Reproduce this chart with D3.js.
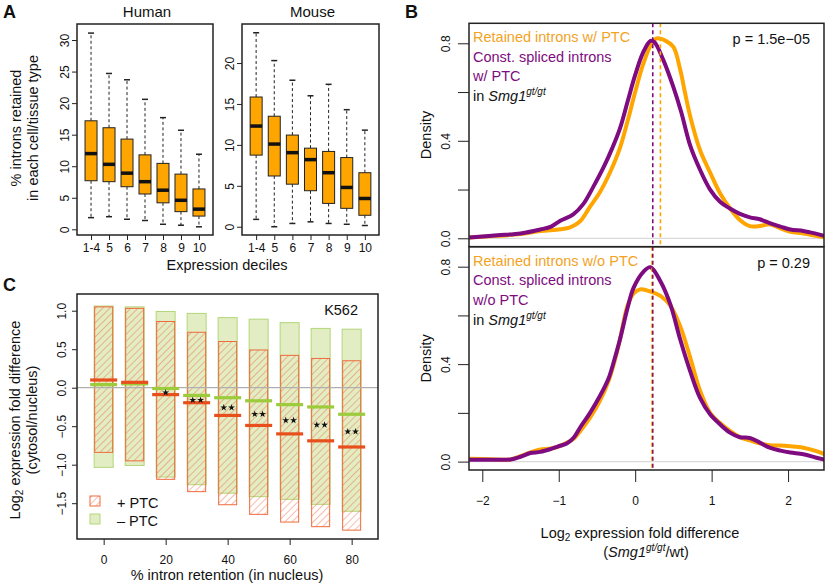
<!DOCTYPE html>
<html><head><meta charset="utf-8">
<script src="https://cdn.jsdelivr.net/npm/d3@7"></script>
<style>
body{margin:0;background:#fff}
text{font-family:"Liberation Sans",Arial,Helvetica,sans-serif}
</style>
</head><body>
<svg id="c" width="827" height="585"></svg>
<script>
// ---------- Panel A data (box plots) ----------
const deciles = ["1-4","5","6","7","8","9","10"];
const humanLow  = [1.85, 2.0, 1.6, 1.4, 0.8, 0.65, 0.4];
const humanQ1   = [7.7, 7.55, 6.75, 5.6, 4.2, 2.8, 2.1];
const humanMed  = [12.0, 10.3, 8.9, 7.55, 6.2, 4.6, 3.2];
const humanQ3   = [17.2, 16.1, 14.3, 11.8, 10.45, 8.75, 6.4];
const humanHigh = [31.1, 24.7, 23.7, 20.6, 17.7, 15.7, 11.9];
const mouseLow  = [0.9, 0.0, 0.4, 0.6, 0.4, 0.3, 0.15];
const mouseQ1   = [8.75, 6.2, 5.2, 4.4, 2.85, 2.25, 1.4];
const mouseMed  = [12.3, 10.1, 9.05, 8.2, 6.6, 4.8, 3.45];
const mouseQ3   = [15.85, 13.5, 11.2, 9.6, 9.2, 8.45, 6.6];
const mouseHigh = [23.7, 20.3, 17.9, 16.0, 17.4, 14.3, 11.8];
const humanTicks = [0,5,10,15,20,25,30];
const mouseTicks = [0,5,10,15,20];

// ---------- Panel C data ----------
const retention   = [0,10,20,30,40,50,60,70,80];
const ptcTop      = [1.05, 1.03, 0.86, 0.72, 0.60, 0.49, 0.42, 0.38, 0.35];
const ptcBottom   = [-0.84, -0.95, -1.19, -1.35, -1.52, -1.645, -1.745, -1.805, -1.85];
const ptcMedian   = [0.10, 0.07, -0.09, -0.195, -0.36, -0.49, -0.60, -0.69, -0.77];
const noPtcTop    = [1.06, 1.05, 0.99, 0.965, 0.91, 0.89, 0.845, 0.77, 0.76];
const noPtcBottom = [-1.035, -1.01, -1.16, -1.26, -1.37, -1.415, -1.45, -1.515, -1.605];
const noPtcMedian = [0.04, 0.05, -0.01, -0.10, -0.13, -0.17, -0.22, -0.25, -0.345];
const signifStars = [0,0,1,2,2,2,2,2,2];
const cYTicks = [1.0,0.5,0.0,-0.5,-1.0,-1.5];
const cXTicks = [0,20,40,60,80];

// ---------- Panel B data (density curves) ----------
const topRetained = [[-2.17,0.003],[-1.8,0.01],[-1.5,0.018],[-1.24,0.03],[-0.98,0.037],[-0.85,0.045],[-0.72,0.07],[-0.59,0.13],[-0.46,0.19],[-0.33,0.27],[-0.2,0.37],[-0.1,0.48],[0.0,0.6],[0.1,0.71],[0.2,0.79],[0.28,0.82],[0.4,0.81],[0.5,0.785],[0.59,0.69],[0.65,0.6],[0.72,0.5],[0.85,0.36],[0.98,0.27],[1.11,0.185],[1.24,0.123],[1.37,0.075],[1.5,0.05],[1.63,0.05],[1.76,0.058],[1.9,0.041],[2.03,0.027],[2.2,0.02],[2.47,0.004]];
const topConst = [[-2.17,0.003],[-1.8,0.012],[-1.5,0.02],[-1.24,0.036],[-1.1,0.048],[-0.98,0.072],[-0.81,0.098],[-0.68,0.14],[-0.55,0.21],[-0.4,0.3],[-0.3,0.37],[-0.2,0.45],[-0.1,0.56],[0.0,0.67],[0.1,0.76],[0.2,0.81],[0.25,0.805],[0.37,0.73],[0.5,0.62],[0.6,0.52],[0.72,0.38],[0.85,0.28],[0.98,0.2],[1.11,0.15],[1.24,0.122],[1.37,0.1],[1.5,0.086],[1.63,0.078],[1.76,0.062],[1.9,0.048],[2.03,0.036],[2.2,0.03],[2.35,0.02],[2.47,0.01]];
const botRetained = [[-2.17,0.012],[-1.9,0.01],[-1.63,0.009],[-1.5,0.022],[-1.37,0.038],[-1.24,0.05],[-1.1,0.054],[-0.98,0.065],[-0.89,0.078],[-0.8,0.095],[-0.72,0.125],[-0.59,0.18],[-0.46,0.25],[-0.35,0.33],[-0.28,0.4],[-0.2,0.5],[-0.1,0.64],[-0.02,0.69],[0.065,0.707],[0.15,0.703],[0.33,0.68],[0.46,0.64],[0.59,0.555],[0.72,0.427],[0.85,0.29],[0.98,0.2],[1.11,0.158],[1.24,0.126],[1.37,0.1],[1.5,0.087],[1.63,0.075],[1.76,0.067],[1.9,0.066],[2.03,0.063],[2.2,0.057],[2.37,0.043],[2.48,0.03]];
const botConst = [[-2.17,0.008],[-1.9,0.008],[-1.63,0.009],[-1.5,0.02],[-1.37,0.035],[-1.24,0.04],[-1.1,0.052],[-0.98,0.065],[-0.89,0.075],[-0.8,0.1],[-0.72,0.14],[-0.59,0.2],[-0.46,0.27],[-0.35,0.34],[-0.28,0.41],[-0.2,0.5],[-0.1,0.63],[-0.02,0.714],[0.11,0.78],[0.2,0.798],[0.33,0.74],[0.46,0.645],[0.59,0.5],[0.72,0.37],[0.85,0.26],[0.98,0.194],[1.11,0.153],[1.24,0.119],[1.37,0.1],[1.5,0.097],[1.63,0.078],[1.76,0.057],[1.9,0.045],[2.03,0.037],[2.2,0.03],[2.37,0.016],[2.48,0.008]];
const topMedians = {retained:0.33, constant:0.23};
const botMedians = {retained:0.22, constant:0.23};
const bYTicks = [0,0.2,0.4,0.6,0.8];
const bXTicks = [-2,-1,0,1,2];

const ORANGE = "#FFA500", PURPLE = "#7E0C80";
const svg = d3.select("#c");
const defs = svg.append("defs");
defs.append("pattern").attr("id","hatch").attr("patternUnits","userSpaceOnUse")
  .attr("width",5).attr("height",5).attr("patternTransform","rotate(45)")
  .append("line").attr("x1",0).attr("y1",-1).attr("x2",0).attr("y2",6)
  .attr("stroke","#EF6A3E").attr("stroke-width",0.9);

function rotatedYAxis(g, scale, ticks, tickLen, labelOff, fmt, labelSet){
  const ax = d3.axisLeft(scale).tickValues(ticks).tickSize(tickLen).tickSizeOuter(0)
    .tickFormat(d => (labelSet && !labelSet.includes(d)) ? "" : fmt(d));
  g.call(ax);
  g.select(".domain").remove();
  g.selectAll(".tick line").attr("stroke","#222").attr("stroke-width",1);
  g.selectAll(".tick text").attr("x",0).attr("y",0).attr("dy",0)
    .attr("transform",`translate(${-labelOff},0) rotate(-90)`)
    .attr("text-anchor","middle").attr("font-size",12).attr("fill","#111");
}
function bottomAxis(g, scale, ticks, tickLen, labelOff, fmt){
  const ax = d3.axisBottom(scale).tickValues(ticks).tickSize(tickLen).tickSizeOuter(0).tickFormat(fmt);
  g.call(ax);
  g.select(".domain").remove();
  g.selectAll(".tick line").attr("stroke","#222").attr("stroke-width",1);
  g.selectAll(".tick text").attr("y",labelOff).attr("dy",0).attr("font-size",12).attr("fill","#111");
}
function frame(x0,y0,x1,y1){
  svg.append("rect").attr("x",x0).attr("y",y0).attr("width",x1-x0).attr("height",y1-y0)
    .attr("fill","none").attr("stroke","#222").attr("stroke-width",1.5);
}
function label(x,y,txt,opts={}){
  const t = svg.append("text").attr("x",x).attr("y",y).attr("font-size",opts.size||14.5)
    .attr("fill",opts.fill||"#111").attr("text-anchor",opts.anchor||"start");
  if(opts.weight) t.attr("font-weight",opts.weight);
  if(txt!==null) t.text(txt);
  return t;
}

// ---------- Panel A ----------
function boxPanel(f, yDom, ticks, low, q1, med, q3, high, title){
  const x = d3.scaleLinear().domain([-0.78, 6.78]).range([f.x0, f.x1]);
  const y = d3.scaleLinear().domain(yDom).range([f.y1, f.y0]);
  const g = svg.append("g");
  const bw = 12, sw = 6;
  deciles.forEach((d,i)=>{
    const cx = x(i);
    g.append("line").attr("x1",cx).attr("x2",cx).attr("y1",y(q3[i])).attr("y2",y(high[i]))
      .attr("stroke","#222").attr("stroke-dasharray","3,2.5").attr("stroke-width",1);
    g.append("line").attr("x1",cx).attr("x2",cx).attr("y1",y(q1[i])).attr("y2",y(low[i]))
      .attr("stroke","#222").attr("stroke-dasharray","3,2.5").attr("stroke-width",1);
    g.append("line").attr("x1",cx-sw/2).attr("x2",cx+sw/2).attr("y1",y(high[i])).attr("y2",y(high[i]))
      .attr("stroke","#222").attr("stroke-width",1.5);
    g.append("line").attr("x1",cx-sw/2).attr("x2",cx+sw/2).attr("y1",y(low[i])).attr("y2",y(low[i]))
      .attr("stroke","#222").attr("stroke-width",1.5);
    g.append("rect").attr("x",cx-bw/2).attr("width",bw).attr("y",y(q3[i])).attr("height",y(q1[i])-y(q3[i]))
      .attr("fill",ORANGE).attr("stroke","#222").attr("stroke-width",1);
    g.append("line").attr("x1",cx-bw/2).attr("x2",cx+bw/2).attr("y1",y(med[i])).attr("y2",y(med[i]))
      .attr("stroke","#111").attr("stroke-width",3.5);
  });
  frame(f.x0,f.y0,f.x1,f.y1);
  rotatedYAxis(svg.append("g").attr("transform",`translate(${f.x0},0)`), y, ticks, 5, 8, d3.format("d"));
  bottomAxis(svg.append("g").attr("transform",`translate(0,${f.y1})`), x, d3.range(7), 5, 17, i=>deciles[i]);
  label((f.x0+f.x1)/2 + 2, 17, title, {size:15, anchor:"middle"});
}
boxPanel({x0:77,x1:213,y0:24,y1:235}, [-0.9,32.54], humanTicks, humanLow, humanQ1, humanMed, humanQ3, humanHigh, "Human");
boxPanel({x0:242,x1:379,y0:24,y1:235}, [-1.01,24.77], mouseTicks, mouseLow, mouseQ1, mouseMed, mouseQ3, mouseHigh, "Mouse");
label(227, 270, "Expression deciles", {anchor:"middle"});
svg.append("text").attr("transform","translate(21,128) rotate(-90)").attr("text-anchor","middle").attr("font-size",14.5).attr("fill","#111").text("% introns retained");
svg.append("text").attr("transform","translate(38,128) rotate(-90)").attr("text-anchor","middle").attr("font-size",14.5).attr("fill","#111").text("in each cell/tissue type");
label(3, 18, "A", {size:18, weight:"bold"});

// ---------- Panel C ----------
(function(){
  const f = {x0:77,x1:378,y0:294,y1:539};
  const x = d3.scaleLinear().domain([-8.6,88.5]).range([f.x0,f.x1]);
  const y = d3.scaleLinear().domain([-1.965,1.217]).range([f.y1,f.y0]);
  const g = svg.append("g");
  const bw = 19, mw = 27;
  retention.forEach((r,i)=>{
    g.append("rect").attr("x",x(r)-bw/2).attr("width",bw).attr("y",y(noPtcTop[i])).attr("height",y(noPtcBottom[i])-y(noPtcTop[i]))
      .attr("fill","#E2EDC3").attr("stroke","#B3D67A").attr("stroke-width",1);
  });
  retention.forEach((r,i)=>{
    g.append("rect").attr("x",x(r)-bw/2+0.5).attr("width",bw-1).attr("y",y(ptcTop[i])).attr("height",y(ptcBottom[i])-y(ptcTop[i]))
      .attr("fill","url(#hatch)").attr("stroke","#EF6A3E").attr("stroke-width",1);
  });
  g.append("line").attr("x1",f.x0).attr("x2",f.x1).attr("y1",y(0)).attr("y2",y(0))
    .attr("stroke","#AFAFAF").attr("stroke-width",1.3);
  retention.forEach((r,i)=>{
    g.append("line").attr("x1",x(r)-mw/2).attr("x2",x(r)+mw/2).attr("y1",y(noPtcMedian[i])).attr("y2",y(noPtcMedian[i]))
      .attr("stroke","#9CCB3B").attr("stroke-width",3.2);
    g.append("line").attr("x1",x(r)-mw/2).attr("x2",x(r)+mw/2).attr("y1",y(ptcMedian[i])).attr("y2",y(ptcMedian[i]))
      .attr("stroke","#E84F1C").attr("stroke-width",3.2);
    const n = signifStars[i];
    const sy = (y(noPtcMedian[i])+y(ptcMedian[i]))/2 + 1;
    for(let k=0;k<n;k++){
      const sx = x(r) + (n===1 ? 0 : (k===0?-3.9:3.9));
      g.append("path").attr("d", d3.symbol(d3.symbolStar).size(15)()).attr("transform",`translate(${sx},${sy})`).attr("fill","#111");
    }
  });
  frame(f.x0,f.y0,f.x1,f.y1);
  rotatedYAxis(svg.append("g").attr("transform",`translate(${f.x0},0)`), y, cYTicks, 5, 11, d3.format(".1f"));
  bottomAxis(svg.append("g").attr("transform",`translate(0,${f.y1})`), x, cXTicks, 6, 25, d3.format("d"));
  label(358, 315, "K562", {anchor:"end"});
  // legend
  svg.append("rect").attr("x",90).attr("y",496).attr("width",10).attr("height",10).attr("fill","url(#hatch)").attr("stroke","#EF6A3E");
  label(117, 508, "+ PTC");
  svg.append("rect").attr("x",90).attr("y",514).attr("width",10).attr("height",10).attr("fill","#E2EDC3").attr("stroke","#B3D67A");
  label(117, 526, "\u2013 PTC");
  label(227, 580, "% intron retention (in nucleus)", {anchor:"middle"});
  const l1 = svg.append("text").attr("transform","translate(20,420) rotate(-90)").attr("text-anchor","middle").attr("font-size",14.5).attr("fill","#111");
  l1.append("tspan").text("Log");
  l1.append("tspan").attr("font-size",10).attr("dy",3).text("2");
  l1.append("tspan").attr("dy",-3).text(" expression fold difference");
  svg.append("text").attr("transform","translate(37,420) rotate(-90)").attr("text-anchor","middle").attr("font-size",14.5).attr("fill","#111").text("(cytosol/nucleus)");
  label(3, 291, "C", {size:18, weight:"bold"});
})();

// ---------- Panel B ----------
(function(){
  const x0 = 469, x1 = 824;
  const x = d3.scaleLinear().domain([-2.174,2.47]).range([x0,x1]);
  const panels = [
    {y0:23.3, y1:246.7, ret:topRetained, con:topConst, med:topMedians, p:"p = 1.5e\u221205",
     leg:["Retained introns w/ PTC","Const. spliced introns","w/ PTC"], id:"clipTop"},
    {y0:246.7, y1:470, ret:botRetained, con:botConst, med:botMedians, p:"p = 0.29",
     leg:["Retained introns w/o PTC","Const. spliced introns","w/o PTC"], id:"clipBot"}
  ];
  panels.forEach((P,pi)=>{
    const y = d3.scaleLinear().domain([-0.0345,0.882]).range([P.y1,P.y0]);
    defs.append("clipPath").attr("id",P.id).append("rect").attr("x",x0).attr("y",P.y0).attr("width",x1-x0).attr("height",P.y1-P.y0);
    const g = svg.append("g").attr("clip-path",`url(#${P.id})`);
    g.append("line").attr("x1",x0).attr("x2",x1).attr("y1",y(0)).attr("y2",y(0)).attr("stroke","#DADADA").attr("stroke-width",1.3);
    const line = d3.line().x(d=>x(d[0])).y(d=>y(d[1])).curve(d3.curveCatmullRom.alpha(0.5));
    g.append("path").attr("d",line(P.ret)).attr("fill","none").attr("stroke",ORANGE).attr("stroke-width",4).attr("stroke-linejoin","round");
    g.append("path").attr("d",line(P.con)).attr("fill","none").attr("stroke",PURPLE).attr("stroke-width",4).attr("stroke-linejoin","round");
    g.append("line").attr("x1",x(P.med.retained)).attr("x2",x(P.med.retained)).attr("y1",P.y0).attr("y2",P.y1)
      .attr("stroke",ORANGE).attr("stroke-width",1.6).attr("stroke-dasharray","4,3");
    g.append("line").attr("x1",x(P.med.constant)).attr("x2",x(P.med.constant)).attr("y1",P.y0).attr("y2",P.y1)
      .attr("stroke",pi===1?"#8E1450":PURPLE).attr("stroke-width",1.6).attr("stroke-dasharray","4,3");
    frame(x0,P.y0,x1,P.y1);
    rotatedYAxis(svg.append("g").attr("transform",`translate(${x0},0)`), y, bYTicks, 11, 19, d3.format(".1f"), [0,0.4,0.8]);
    const lx = 473, ly = P.y0 + 19;
    label(lx, ly, P.leg[0], {fill:"#F2A31F"});
    label(lx, ly+19.5, P.leg[1], {fill:PURPLE});
    label(lx, ly+39, P.leg[2], {fill:PURPLE});
    const t = label(lx, ly+59, null);
    t.append("tspan").text("in ");
    t.append("tspan").attr("font-style","italic").text("Smg1");
    t.append("tspan").attr("font-style","italic").attr("font-size",10).attr("dy",-6).text("gt/gt");
    label(810, P.y0+21, P.p, {anchor:"end"});
    svg.append("text").attr("transform",`translate(431,${(P.y0+P.y1)/2}) rotate(-90)`).attr("text-anchor","middle").attr("font-size",14.5).attr("fill","#111").text("Density");
  });
  bottomAxis(svg.append("g").attr("transform","translate(0,470)"), x, bXTicks, 12, 35, d3.format("d"));
  const l1 = label(640, 538, null, {anchor:"middle"});
  l1.append("tspan").text("Log");
  l1.append("tspan").attr("font-size",10).attr("dy",3).text("2");
  l1.append("tspan").attr("dy",-3).text(" expression fold difference");
  const l2 = label(646, 557, null, {anchor:"middle"});
  l2.append("tspan").text("(");
  l2.append("tspan").attr("font-style","italic").text("Smg1");
  l2.append("tspan").attr("font-style","italic").attr("font-size",10).attr("dy",-6).text("gt/gt");
  l2.append("tspan").attr("dy",6).text("/wt)");
  label(405, 18, "B", {size:18, weight:"bold"});
})();
</script>
</body></html>
